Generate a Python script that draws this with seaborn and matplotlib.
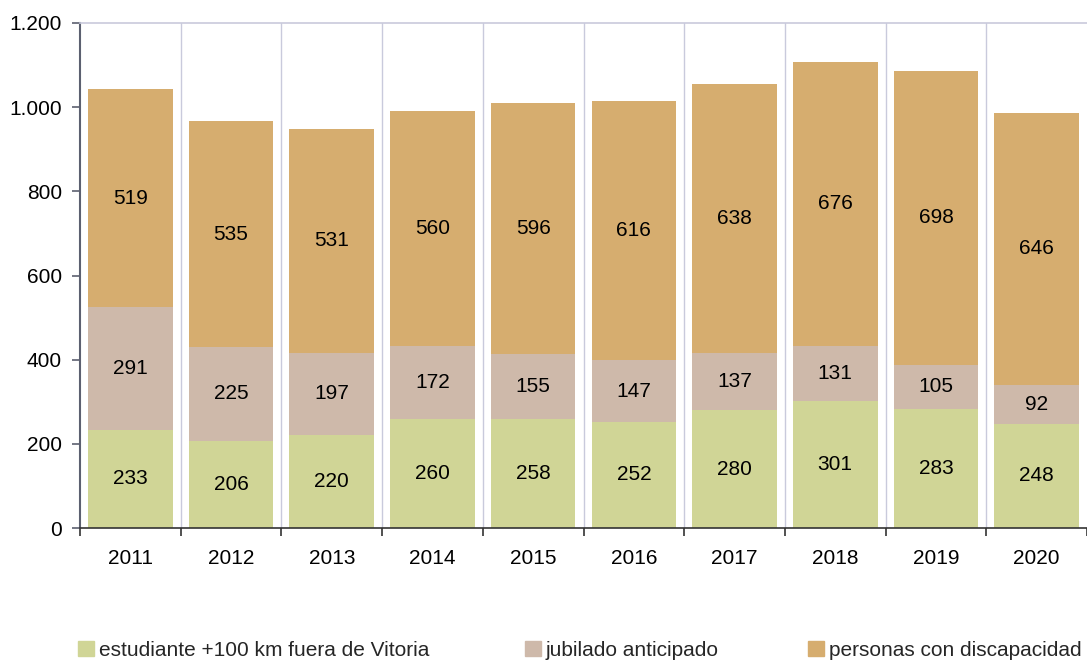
import matplotlib
matplotlib.use("Agg")
import matplotlib.pyplot as plt
import seaborn as sns
import numpy as np
import pandas as pd
from matplotlib.ticker import FuncFormatter, FixedLocator
from matplotlib.patches import Patch

years = ["2011", "2012", "2013", "2014", "2015", "2016", "2017", "2018", "2019", "2020"]
estudiante = [233, 206, 220, 260, 258, 252, 280, 301, 283, 248]
jubilado = [291, 225, 197, 172, 155, 147, 137, 131, 105, 92]
discapacidad = [519, 535, 531, 560, 596, 616, 638, 676, 698, 646]
series_names = ["estudiante +100 km fuera de Vitoria", "jubilado anticipado", "personas con discapacidad"]
colors = ["#D0D596", "#CEB9AA", "#D6AD6F"]

sns.set_theme(style="white")
plt.rcParams['font.family'] = ['Liberation Sans', 'DejaVu Sans']

FS = 15

fig = plt.figure(figsize=(10.87, 6.6), dpi=100)
ax = fig.add_axes([80/1087, 1-528/660, 1-80/1087, (528-23)/660])

bottoms = np.zeros(len(years))
series = [estudiante, jubilado, discapacidad]
for vals, col in zip(series, colors):
    tmp = pd.DataFrame({"year": years, "v": vals})
    sns.barplot(data=tmp, x="year", y="v", color=col, bottom=bottoms.copy(),
                width=0.84, ax=ax, saturation=1, linewidth=0, edgecolor=col)
    for i, v in enumerate(vals):
        ax.text(i, bottoms[i] + v / 2, str(v), ha="center", va="center", fontsize=FS, color="black")
    bottoms += np.array(vals)

ax.set_xlim(-0.5, 9.5)
ax.set_ylim(0, 1200)
ax.set_xlabel("")
ax.set_ylabel("")
ax.yaxis.set_major_locator(FixedLocator([0, 200, 400, 600, 800, 1000, 1200]))
ax.yaxis.set_major_formatter(FuncFormatter(lambda v, p: f"{int(v):,}".replace(",", ".")))

# vertical gridlines at category boundaries
for b in np.arange(0.5, 9.5, 1.0):
    ax.axvline(b, color="#C9CADC", linewidth=1, zorder=0)
ax.set_axisbelow(True)

ax.spines["right"].set_visible(False)
ax.spines["top"].set_visible(True)
ax.spines["top"].set_color("#C9CADC")
ax.spines["top"].set_linewidth(1.2)
ax.spines["left"].set_color("#5C6070")
ax.spines["left"].set_linewidth(1.5)
ax.spines["bottom"].set_color("#333333")
ax.spines["bottom"].set_linewidth(1.2)

ax.set_xticks(range(len(years)))
ax.set_xticklabels(years)
ax.tick_params(axis="x", length=0, pad=15, labelsize=FS, colors="black")
ax.xaxis.set_minor_locator(FixedLocator(np.arange(-0.5, 10.0, 1.0)))
ax.tick_params(axis="x", which="minor", length=6, width=1.2, color="#333333", direction="out", bottom=True)
ax.tick_params(axis="y", length=6, width=1.2, color="#5C6070", direction="out", left=True,
               labelsize=FS, colors="black", pad=7)
for lbl in ax.get_yticklabels():
    lbl.set_color("black")

handles = [Patch(facecolor=c, edgecolor=c) for c in colors]
xs = [78/1087, 525/1087, 808/1087]
for h, name, x in zip(handles, series_names, xs):
    fig.legend([h], [name], loc="center left", bbox_to_anchor=(x, 1 - 650/660),
               frameon=False, fontsize=FS, handlelength=0.75, handleheight=0.75,
               handletextpad=0.25, borderpad=0, borderaxespad=0)

fig.savefig("out.png", dpi=100)
